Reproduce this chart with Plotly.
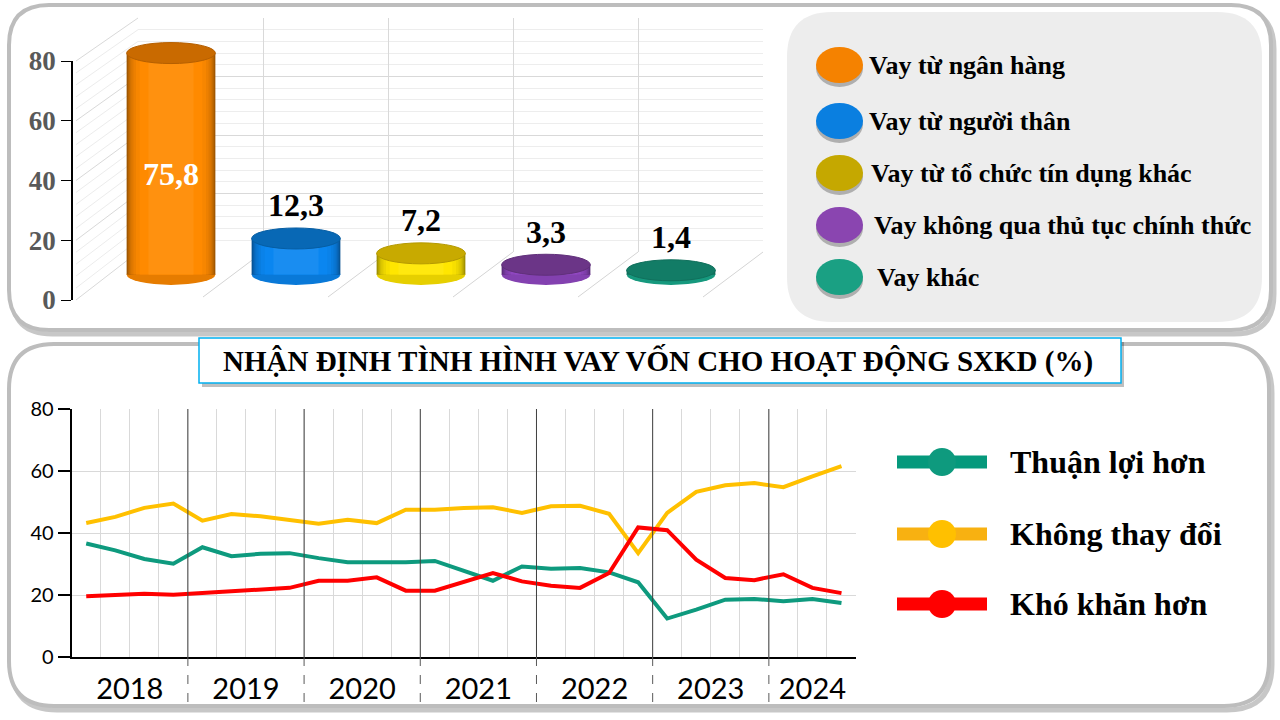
##### Cơ cấu nguồn vay & nhận định tình hình vay vốn #####

import plotly.graph_objects as go

W, H = 1280, 720

#* Dữ liệu phần trên: nguồn vay (%)
loan_sources = ["Vay từ ngân hàng", "Vay từ người thân", "Vay từ tổ chức tín dụng khác",
                "Vay không qua thủ tục chính thức", "Vay khác"]
loan_shares = [75.8, 12.3, 7.2, 3.3, 1.4]

#* Dữ liệu phần dưới: nhận định theo quý (%)
years = ["2018", "2019", "2020", "2021", "2022", "2023", "2024"]
quarters_per_year = [4, 4, 4, 4, 4, 4, 3]
thuan_loi = [36.6, 34.4, 31.6, 30.1, 35.4, 32.5, 33.3, 33.5, 31.9, 30.6, 30.6, 30.6, 31.0, 27.8,
             24.6, 29.2, 28.5, 28.7, 27.3, 24.1, 12.4, 15.3, 18.5, 18.7, 18.0, 18.7, 17.4]
khong_thay_doi = [43.2, 45.2, 48.1, 49.5, 44.0, 46.1, 45.4, 44.1, 43.0, 44.3, 43.2, 47.5, 47.5, 48.1,
                  48.3, 46.5, 48.6, 48.8, 46.2, 33.5, 46.5, 53.3, 55.4, 56.1, 54.8, 58.3, 61.6]
kho_khan = [19.6, 19.9, 20.4, 20.1, 20.6, 21.1, 21.5, 22.3, 24.6, 24.6, 25.7, 21.4, 21.4, 24.4,
            27.1, 24.4, 23.0, 22.3, 27.1, 41.8, 40.9, 31.4, 25.5, 24.8, 26.7, 22.3, 20.6]
line_names = ["Thuận lợi hơn", "Không thay đổi", "Khó khăn hơn"]

# màu
body_colors = ["#FF8A00", "#0A86F0", "#FFE600", "#9248C4", "#19AA8C"]
cap_colors = ["#C96A00", "#0868B5", "#C8AA00", "#6B3587", "#127C66"]
dot_colors = ["#F58200", "#0A7FE0", "#C5A800", "#8A45B0", "#1AA083"]
line_colors = ["#0E9A7E", "#FFC000", "#FF0000"]
legend_bar_colors = ["#05997C", "#F8B111", "#FF0000"]

SERIF = "Liberation Serif"


def X(px):
    return px / W


def Y(py):
    return 1 - py / H


def mix(hex_color, target, t):
    a = [int(hex_color[i:i + 2], 16) for i in (1, 3, 5)]
    b = [int(target[i:i + 2], 16) for i in (1, 3, 5)]
    return "#" + "".join(f"{round(p + (q - p) * t):02x}" for p, q in zip(a, b))


def rrect(x0, y0, x1, y1, r):
    return (f"M {X(x0 + r)},{Y(y0)} L {X(x1 - r)},{Y(y0)} Q {X(x1)},{Y(y0)} {X(x1)},{Y(y0 + r)} "
            f"L {X(x1)},{Y(y1 - r)} Q {X(x1)},{Y(y1)} {X(x1 - r)},{Y(y1)} "
            f"L {X(x0 + r)},{Y(y1)} Q {X(x0)},{Y(y1)} {X(x0)},{Y(y1 - r)} "
            f"L {X(x0)},{Y(y0 + r)} Q {X(x0)},{Y(y0)} {X(x0 + r)},{Y(y0)} Z")


fig = go.Figure()
shapes = []
annotations = []

# khung nền hai phần
for (x0, y0, x1, y1, r) in [(9, 5, 1271, 330, 40), (9, 344, 1269, 706, 45)]:
    shapes.append(dict(type="path", xref="paper", yref="paper", layer="below",
                       path=rrect(x0 + 3, y0 + 4, x1 + 3, y1 + 4, r),
                       line=dict(color="rgba(0,0,0,0.22)", width=5)))
    shapes.append(dict(type="path", xref="paper", yref="paper", layer="below",
                       path=rrect(x0, y0, x1, y1, r), fillcolor="white",
                       line=dict(color="#BDBDBD", width=4)))
shapes.append(dict(type="path", xref="paper", yref="paper", layer="below",
                   path=rrect(787, 12, 1262, 322, 45), fillcolor="#EDEDED", line=dict(width=0)))

##### Phần trên: cột trụ 3D #####

n = len(loan_shares)
cat = list(range(n))

# tường phía sau (x2, y2) – vết ẩn để lưới được vẽ
fig.add_trace(go.Scatter(x=cat, y=loan_shares, xaxis="x2", yaxis="y2", mode="none",
                         showlegend=False, hoverinfo="skip"))
fig.update_layout(
    xaxis2=dict(domain=[X(138), X(763)], range=[0, n], anchor="y2", tickmode="linear", tick0=0, dtick=1,
                showgrid=True, gridcolor="#D9D9D9", showticklabels=False, zeroline=False, showline=False,
                automargin=False, fixedrange=True),
    yaxis2=dict(domain=[Y(252), Y(18)], range=[0, 80], anchor="x2", tickmode="linear", tick0=0, dtick=20,
                showgrid=True, gridcolor="#D9D9D9", showticklabels=False, zeroline=False, showline=False,
                automargin=False, fixedrange=True,
                minor=dict(tick0=0, dtick=4, showgrid=True, gridcolor="#EDEDED")),
)

# tường bên trái & sàn
for v in range(0, 81, 4):
    shapes.append(dict(type="line", xref="paper", yref="paper", layer="below",
                       x0=X(76), y0=Y(300 - v * 239 / 80), x1=X(138), y1=Y(252 - v * 234 / 80),
                       line=dict(color="#D9D9D9" if v % 20 == 0 else "#ECECEC", width=1)))
for k in range(1, n + 1):
    shapes.append(dict(type="line", xref="paper", yref="paper", layer="below",
                       x0=X(138 + 125 * k - 60), y0=Y(297), x1=X(138 + 125 * k), y1=Y(252),
                       line=dict(color="#D4D4D4", width=1)))

# thân cột: nhiều lớp cột chồng để tạo hiệu ứng trụ tròn
layers = [(0.71, "#000000", 0.40), (0.695, "#000000", 0.32), (0.68, "#000000", 0.25),
          (0.66, "#000000", 0.18), (0.635, "#000000", 0.12), (0.60, "#000000", 0.07),
          (0.56, "#000000", 0.03), (0.50, "#000000", 0.0), (0.36, "#FFFFFF", 0.06)]
for w, target, t in layers:
    fig.add_trace(go.Bar(x=cat, y=loan_shares, width=w, xaxis="x3", yaxis="y3",
                         marker=dict(color=[mix(c, target, t) for c in body_colors], line=dict(width=0)),
                         showlegend=False, hoverinfo="skip"))

# trục số phía trước (x4, y4) – vết ẩn để trục luôn được vẽ
fig.add_trace(go.Scatter(x=[0] * n, y=loan_shares, xaxis="x4", yaxis="y4", mode="none",
                         showlegend=False, hoverinfo="skip"))

half_w, half_h = 0.355, 10.5 / 2.92
for i, v in enumerate(loan_shares):
    # đáy
    shapes.append(dict(type="circle", xref="x3", yref="y3", layer="below",
                       x0=i - half_w, x1=i + half_w, y0=-half_h, y1=half_h,
                       fillcolor=mix(body_colors[i], "#000000", 0.1), line=dict(width=0)))
    # nắp
    shapes.append(dict(type="circle", xref="x3", yref="y3", layer="above",
                       x0=i - half_w, x1=i + half_w, y0=v - half_h, y1=v + half_h,
                       fillcolor=cap_colors[i], line=dict(color=mix(cap_colors[i], "#000000", 0.1), width=1)))
    label = f"{v:.1f}".replace(".", ",")
    if v > 40:
        annotations.append(dict(x=i, y=v / 2 - 3.5, xref="x3", yref="y3", text=f"<b>{label}</b>",
                                showarrow=False, font=dict(family=SERIF, size=32, color="white")))
    else:
        annotations.append(dict(x=i, y=v, xref="x3", yref="y3", yshift=33, text=f"<b>{label}</b>",
                                showarrow=False, font=dict(family=SERIF, size=32, color="black")))

fig.update_layout(
    barmode="overlay",
    xaxis3=dict(domain=[X(108.5), X(733.5)], range=[-0.5, n - 0.5], anchor="y3", visible=False,
                automargin=False, fixedrange=True),
    yaxis3=dict(domain=[Y(291.9), Y(26.2)], range=[-6, 85], anchor="x3", visible=False,
                automargin=False, fixedrange=True),
    xaxis4=dict(domain=[X(73), X(80)], range=[0, 1], anchor="y4", showgrid=False, zeroline=False,
                showline=False, showticklabels=False, ticks="", automargin=False, fixedrange=True),
    yaxis4=dict(domain=[Y(300), Y(61)], range=[0, 80], anchor="x4", tickmode="linear", tick0=0, dtick=20,
                showgrid=False, zeroline=False, showline=True, linecolor="black", linewidth=1.5,
                ticks="outside", ticklen=10, tickcolor="black", automargin=False, fixedrange=True,
                tickfont=dict(family=SERIF, size=27, color="#595959", weight="bold")),
)

# chú giải phần trên
legend_y = [65, 121, 173, 225, 277]
legend_tx = [867, 867, 869, 872, 875]
for i, name in enumerate(loan_sources):
    cy = legend_y[i]
    shapes.append(dict(type="circle", xref="paper", yref="paper", layer="below",
                       x0=X(816), x1=X(863), y0=Y(cy - 15), y1=Y(cy + 22),
                       fillcolor="rgba(60,60,60,0.35)", line=dict(width=0)))
    shapes.append(dict(type="circle", xref="paper", yref="paper", layer="below",
                       x0=X(816), x1=X(863), y0=Y(cy - 18), y1=Y(cy + 18),
                       fillcolor=dot_colors[i], line=dict(width=0)))
    annotations.append(dict(x=X(legend_tx[i]), y=Y(cy), xref="paper", yref="paper", xanchor="left",
                            yanchor="middle", text=f"<b>{name}</b>", showarrow=False,
                            font=dict(family=SERIF, size=26, color="black")))

##### Phần dưới: đường nhận định #####

n_q = sum(quarters_per_year)
qx = list(range(n_q))
year_centers, year_bounds = [], []
start = 0
for q in quarters_per_year:
    year_centers.append(start + (q - 1) / 2)
    start += q
    year_bounds.append(start - 0.5)

for name, vals, color in zip(line_names, [thuan_loi, khong_thay_doi, kho_khan], line_colors):
    fig.add_trace(go.Scatter(x=qx, y=vals, mode="lines", name=name, xaxis="x", yaxis="y",
                             line=dict(color=color, width=4), showlegend=False))

fig.update_layout(
    xaxis=dict(domain=[X(71.7), X(856)], range=[-0.5, n_q - 0.5], anchor="y", automargin=False,
               tickmode="array", tickvals=year_centers, ticktext=years,
               ticks="outside", ticklen=5, tickcolor="rgba(0,0,0,0)",
               tickfont=dict(family="Lato", size=29, color="black"),
               showgrid=False, zeroline=False, showline=True, linecolor="black", linewidth=2,
               minor=dict(tick0=-0.5, dtick=1, showgrid=True, gridcolor="#D9D9D9", ticks="")),
    yaxis=dict(domain=[Y(657), Y(409)], range=[0, 80], anchor="x", tickmode="linear", tick0=0, dtick=20,
               ticks="outside", ticklen=12, tickcolor="black", tickwidth=2, automargin=False,
               tickfont=dict(family="Lato", size=20, color="black"),
               showgrid=True, gridcolor="#D9D9D9", zeroline=False, showline=True,
               linecolor="black", linewidth=2),
)

# vạch phân chia năm
for b in year_bounds[:-1]:
    shapes.append(dict(type="line", xref="x", yref="y", x0=b, x1=b, y0=0, y1=80,
                       line=dict(color="#404040", width=1)))
    shapes.append(dict(type="line", xref="x", yref="paper", x0=b, x1=b, y0=Y(657), y1=Y(706),
                       line=dict(color="#595959", width=1, dash="dash")))

# tiêu đề
shapes.append(dict(type="rect", xref="paper", yref="paper", x0=X(202), x1=X(1124), y0=Y(342), y1=Y(387),
                   fillcolor="rgba(0,0,0,0.25)", line=dict(width=0)))
shapes.append(dict(type="rect", xref="paper", yref="paper", x0=X(199), x1=X(1121), y0=Y(338), y1=Y(383),
                   fillcolor="white", line=dict(color="#00B0F0", width=1.5)))
annotations.append(dict(x=X(658), y=Y(361), xref="paper", yref="paper", showarrow=False,
                        text="<b>NHẬN ĐỊNH TÌNH HÌNH VAY VỐN CHO HOẠT ĐỘNG SXKD (%)</b>",
                        font=dict(family=SERIF, size=29, color="black")))

# chú giải phần dưới
for name, cy, lc, mc in zip(line_names, [462, 534, 604], legend_bar_colors, line_colors):
    shapes.append(dict(type="line", xref="paper", yref="paper", x0=X(897), x1=X(987), y0=Y(cy), y1=Y(cy),
                       line=dict(color=lc, width=13)))
    shapes.append(dict(type="circle", xref="paper", yref="paper", x0=X(928), x1=X(956),
                       y0=Y(cy - 14), y1=Y(cy + 14), fillcolor=mc, line=dict(width=0)))
    annotations.append(dict(x=X(1008), y=Y(cy), xref="paper", yref="paper", xanchor="left", yanchor="middle",
                            text=f"<b>{name}</b>", showarrow=False,
                            font=dict(family=SERIF, size=32, color="black")))

fig.update_layout(width=W, height=H, margin=dict(l=0, r=0, t=0, b=0, pad=0, autoexpand=False),
                  paper_bgcolor="white", plot_bgcolor="rgba(0,0,0,0)", hovermode=False,
                  shapes=shapes, annotations=annotations)

fig.write_html("out.html", config={"displayModeBar": False},
               post_script="document.body.style.margin='0';")
